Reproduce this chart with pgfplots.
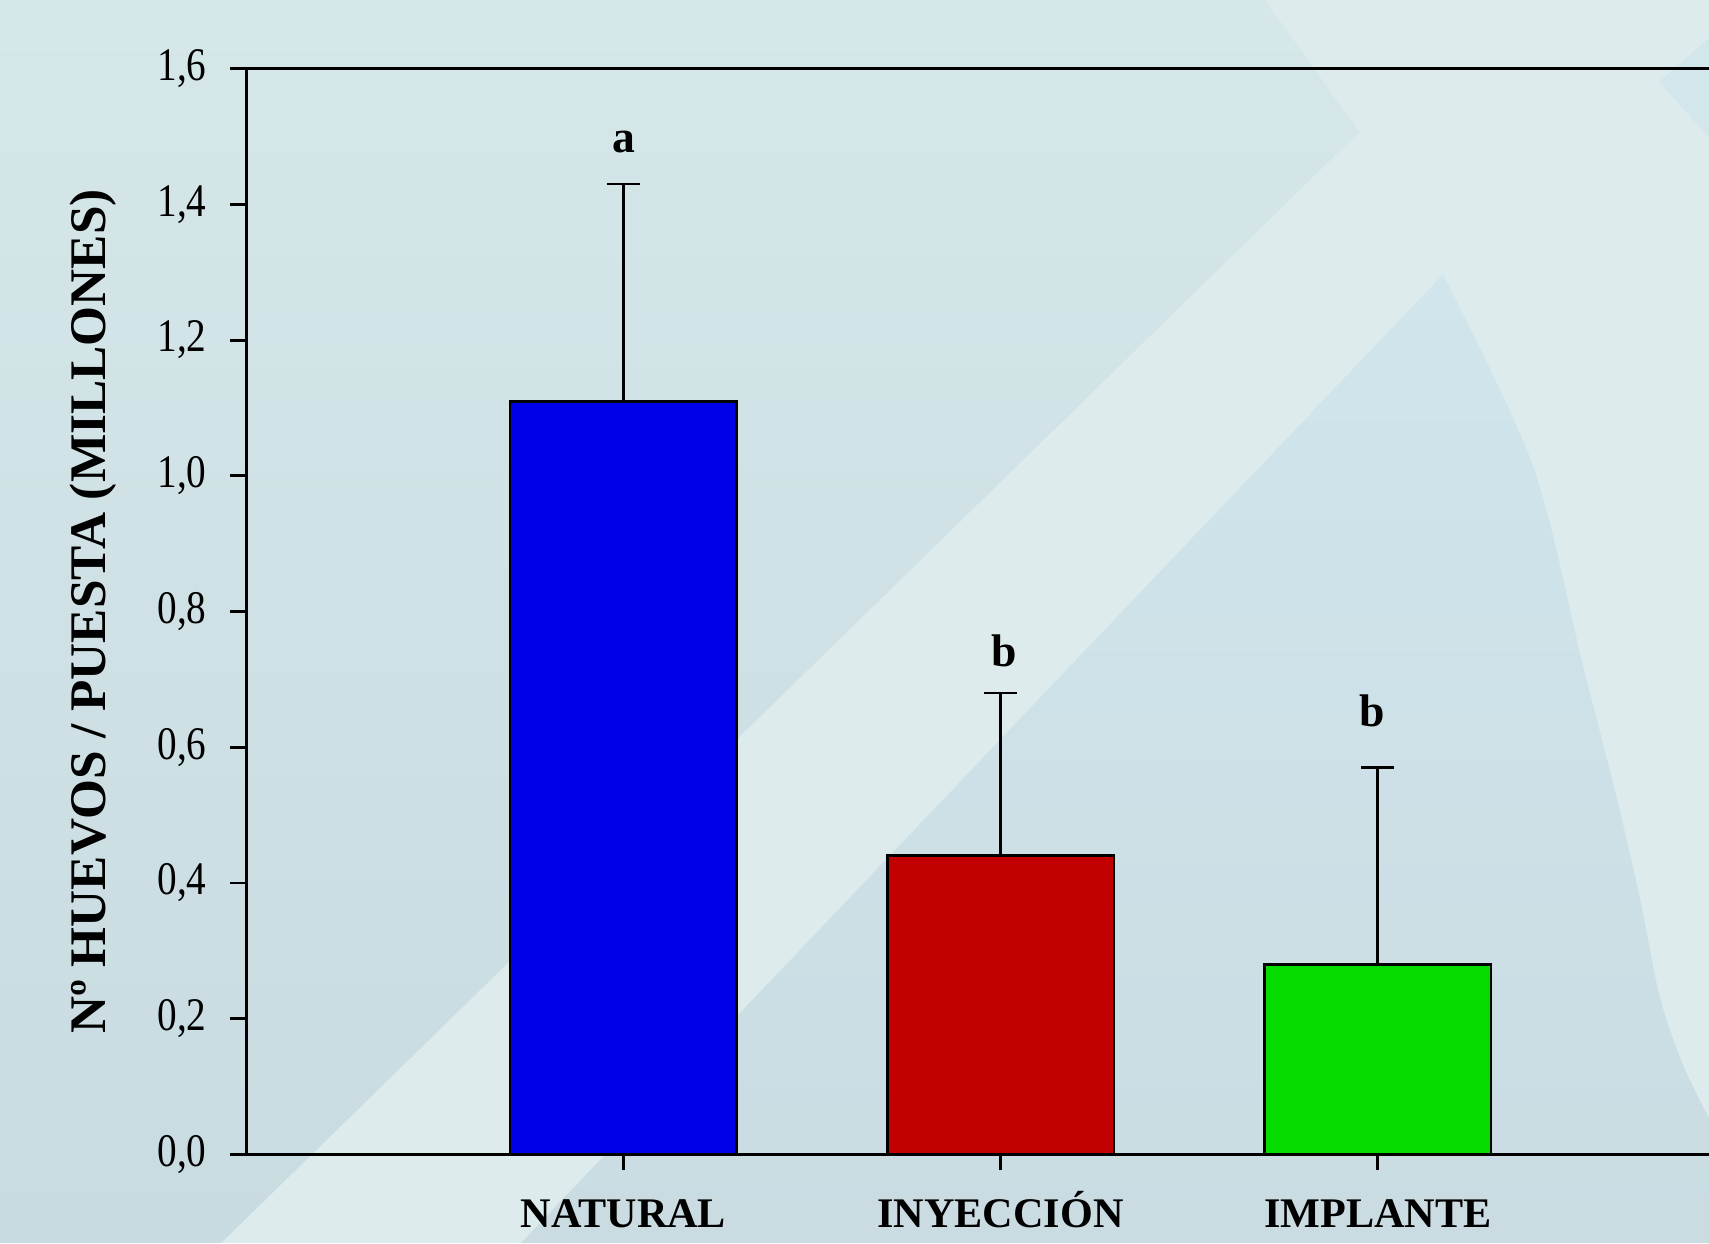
\documentclass[border=0pt]{standalone}
\usepackage{fontspec}
\setmainfont{Liberation Serif}
\newfontfamily\tickfont{Liberation Serif}[FakeStretch=0.84]
\usepackage{pgfplots}
\pgfplotsset{compat=1.18}
\definecolor{bgL}{RGB}{222,235,236}
\definecolor{bgA1}{RGB}{214,231,233}
\definecolor{bgA2}{RGB}{200,219,224}
\definecolor{bgB1}{RGB}{208,229,236}
\definecolor{bgB2}{RGB}{202,220,226}
\definecolor{bgC}{RGB}{210,230,236}
\definecolor{barblue}{RGB}{0,0,232}
\definecolor{barred}{RGB}{194,0,0}
\definecolor{bargreen}{RGB}{4,220,0}
\begin{document}
\begin{tikzpicture}[x=1cm,y=1cm]
\fill[bgL] (0,0) rectangle (17.09,12.43);
\shade[top color=bgA1,bottom color=bgA2] (0,12.43) -- (12.65,12.43) -- (13.59,11.11) -- (2.21,0) -- (0,0) -- cycle;
\shade[top color=bgB1,bottom color=bgB2] (5.21,0) -- (14.43,9.685) -- plot[smooth] coordinates {(14.43,9.685) (15.33,7.77) (15.83,5.77) (16.17,4.44) (16.40,3.44) (16.60,2.45) (16.83,1.78) (17.09,1.25)} -- (17.09,0) -- cycle;
\fill[bgC] (16.59,11.61) -- (17.09,12.05) -- (17.09,11.06) -- cycle;
\begin{axis}[
  at={(2.463cm,0.887cm)}, anchor=south west,
  scale only axis, width=15.085cm, height=10.856cm,
  xmin=0, xmax=4, ymin=0, ymax=1.6,
  axis line style={line width=0.8pt, black},
  ytick={0,0.2,0.4,0.6,0.8,1.0,1.2,1.4,1.6},
  xtick={1,2,3}, xticklabels={NATURAL,INYECCIÓN,IMPLANTE},
  xticklabel style={font=\bfseries\fontsize{12}{14}\selectfont, anchor=base, yshift=-0.57cm},
  yticklabel style={font=\tickfont\fontsize{13.3}{15}\selectfont, inner sep=0pt, xshift=-0.23cm,
    /pgf/number format/.cd, use comma, fixed, fixed zerofill, precision=1},
  /pgf/number format/assume math mode=true,
  tick align=outside, major tick length=0.16cm,
  tick style={line width=0.8pt, black},
  xtick pos=bottom, ytick pos=left,
  ylabel={Nº HUEVOS / PUESTA (MILLONES)},
  ylabel style={font=\bfseries\fontsize{14.6}{17}\selectfont, at={(axis description cs:-0.1014,0.5)}, anchor=center},
  error bars/error bar style={line width=0.8pt, black},
  error bars/error mark options={rotate=90, mark size=0.165cm, line width=0.8pt, black},
]
\addplot[ybar, bar shift=0pt, bar width=2.267cm, fill=barblue, draw=black, line width=0.8pt,
  error bars/.cd, y dir=plus, y explicit] coordinates {(1,1.11) +- (0,0.32)};
\addplot[ybar, bar shift=0pt, bar width=2.267cm, fill=barred, draw=black, line width=0.8pt,
  error bars/.cd, y dir=plus, y explicit] coordinates {(2,0.44) +- (0,0.24)};
\addplot[ybar, bar shift=0pt, bar width=2.267cm, fill=bargreen, draw=black, line width=0.8pt,
  error bars/.cd, y dir=plus, y explicit] coordinates {(3,0.28) +- (0,0.29)};
\node[font=\bfseries\fontsize{13}{15}\selectfont] at (axis cs:1,1.492) {a};
\node[font=\bfseries\fontsize{13}{15}\selectfont] at (axis cs:2.01,0.742) {b};
\node[font=\bfseries\fontsize{13}{15}\selectfont] at (axis cs:2.985,0.654) {b};
\end{axis}
\pgfresetboundingbox
\useasboundingbox (0,0) rectangle (17.09,12.43);
\end{tikzpicture}
\end{document}
